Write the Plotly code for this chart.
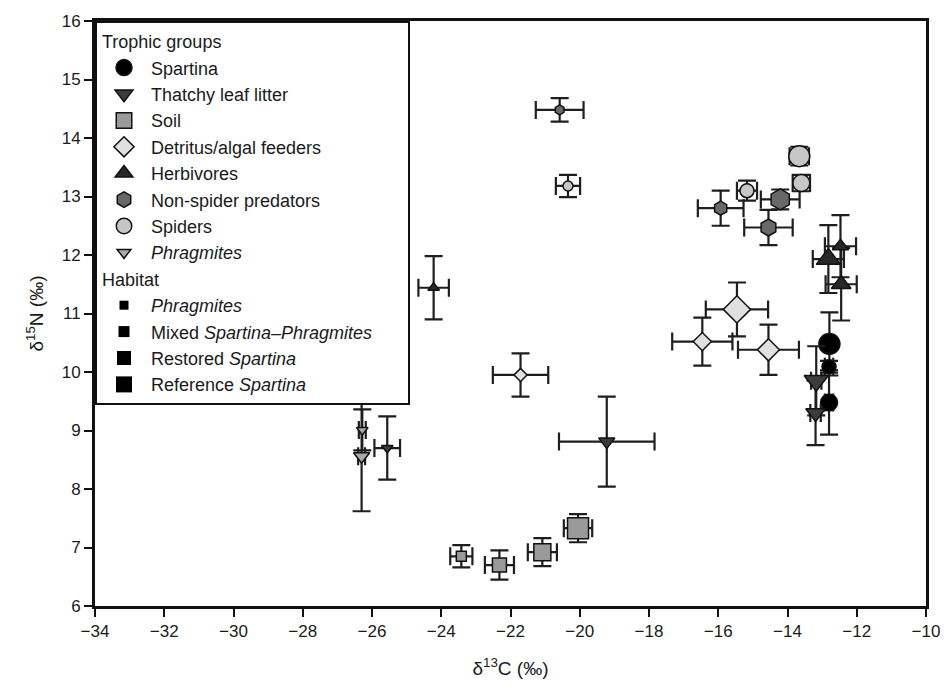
import plotly.graph_objects as go

# ---------------- data ----------------
habitat_names = ["Phragmites", "Mixed", "Restored", "Reference"]
habitat_labels = ["<i>Phragmites</i>", "Mixed <i>Spartina–Phragmites</i>\u00a0\u00a0\u00a0\u00a0\u00a0\u00a0",
                  "Restored <i>Spartina</i>", "Reference <i>Spartina</i>"]

group_names = ["Spartina", "Thatchy leaf litter", "Soil", "Detritus/algal feeders",
               "Herbivores", "Non-spider predators", "Spiders", "<i>Phragmites</i>"]

spartina_x = [-12.79, -12.80, -12.80]
spartina_y = [10.48, 10.09, 9.48]
spartina_xerr = [0.15, 0.12, 0.12]
spartina_yerr = [0.54, 0.10, 0.55]
spartina_hab = ["Reference", "Mixed", "Restored"]

thatch_x = [-25.56, -19.22, -13.17, -13.19]
thatch_y = [8.70, 8.81, 9.85, 9.30]
thatch_xerr = [0.37, 1.38, 0.15, 0.15]
thatch_yerr = [0.54, 0.77, 0.59, 0.55]
thatch_hab = ["Phragmites", "Mixed", "Reference", "Restored"]

soil_x = [-23.42, -22.32, -21.08, -20.05]
soil_y = [6.85, 6.70, 6.92, 7.33]
soil_xerr = [0.32, 0.42, 0.42, 0.41]
soil_yerr = [0.19, 0.25, 0.24, 0.24]
soil_hab = ["Phragmites", "Mixed", "Restored", "Reference"]

detritus_x = [-21.71, -16.46, -14.55, -15.46]
detritus_y = [9.95, 10.52, 10.38, 11.07]
detritus_xerr = [0.80, 0.87, 0.88, 0.90]
detritus_yerr = [0.37, 0.41, 0.43, 0.46]
detritus_hab = ["Phragmites", "Mixed", "Restored", "Reference"]

herb_x = [-24.22, -12.47, -12.45, -12.82]
herb_y = [11.44, 12.15, 11.50, 11.93]
herb_xerr = [0.44, 0.45, 0.45, 0.45]
herb_yerr = [0.54, 0.53, 0.62, 0.58]
herb_hab = ["Phragmites", "Mixed", "Restored", "Reference"]

pred_x = [-20.58, -15.93, -14.55, -14.21]
pred_y = [14.48, 12.80, 12.47, 12.95]
pred_xerr = [0.69, 0.66, 0.70, 0.56]
pred_yerr = [0.20, 0.30, 0.30, 0.17]
pred_hab = ["Phragmites", "Mixed", "Restored", "Reference"]

spider_x = [-20.34, -15.17, -13.60, -13.66]
spider_y = [13.18, 13.10, 13.23, 13.69]
spider_xerr = [0.35, 0.29, 0.25, 0.28]
spider_yerr = [0.19, 0.17, 0.14, 0.16]
spider_hab = ["Phragmites", "Mixed", "Restored", "Reference"]

phrag_x = [-26.28, -26.30]
phrag_y = [9.01, 8.56]
phrag_xerr = [0.10, 0.10]
phrag_yerr = [0.35, 0.94]
phrag_hab = ["Phragmites", "Mixed"]

x_ticks = list(range(-34, -9, 2))
y_ticks = list(range(6, 17, 1))

# ---------------- styles ----------------
hab_size = {"Phragmites": 10, "Mixed": 14, "Restored": 17, "Reference": 21}
hab_legend_size = [9, 11, 14, 16]
FONT = "Liberation Sans, Arial, Helvetica, sans-serif"
ERR = "#1e1e1e"

series = [
    (spartina_x, spartina_y, spartina_xerr, spartina_yerr, spartina_hab, "circle", "#000000"),
    (thatch_x, thatch_y, thatch_xerr, thatch_yerr, thatch_hab, "triangle-down", "#3c3c3c"),
    (soil_x, soil_y, soil_xerr, soil_yerr, soil_hab, "square", "#9a9a9a"),
    (detritus_x, detritus_y, detritus_xerr, detritus_yerr, detritus_hab, "diamond", "#e0e0e0"),
    (herb_x, herb_y, herb_xerr, herb_yerr, herb_hab, "triangle-up", "#282828"),
    (pred_x, pred_y, pred_xerr, pred_yerr, pred_hab, "hexagon", "#686868"),
    (spider_x, spider_y, spider_xerr, spider_yerr, spider_hab, "circle", "#c6c6c6"),
    (phrag_x, phrag_y, phrag_xerr, phrag_yerr, phrag_hab, "triangle-down", "#a9a9a9"),
]

fig = go.Figure()
for name, (xs, ys, xe, ye, hab, sym, col) in zip(group_names, series):
    fig.add_trace(go.Scatter(
        x=xs, y=ys, mode="markers", name=name,
        legendgroup="trophic", legendgrouptitle=dict(text="Trophic groups"),
        marker=dict(symbol=sym, color=col, size=[hab_size[h] for h in hab], opacity=1,
                    line=dict(color="#111111", width=1.5)),
        error_x=dict(type="data", array=xe, color=ERR, thickness=2.2, width=9),
        error_y=dict(type="data", array=ye, color=ERR, thickness=2.2, width=9),
    ))

for lab, sz in zip(habitat_labels, hab_legend_size):
    fig.add_trace(go.Scatter(
        x=[None], y=[None], mode="markers", name=lab,
        legendgroup="habitat", legendgrouptitle=dict(text="Habitat"),
        marker=dict(symbol="square", color="#000000", size=sz, opacity=1),
    ))

fig.update_layout(
    width=952, height=689,
    margin=dict(l=95, r=18, t=18, b=77),
    paper_bgcolor="white", plot_bgcolor="white",
    font=dict(family=FONT, color="#1a1a1a", size=17),
    legend=dict(x=0, y=1, xanchor="left", yanchor="top",
                bgcolor="white", bordercolor="#111111", borderwidth=2,
                font=dict(size=18, family=FONT, color="#1a1a1a"),
                grouptitlefont=dict(size=18, family=FONT, color="#1a1a1a"),
                tracegroupgap=0, itemsizing="trace", itemwidth=44,
                traceorder="grouped", itemclick=False),
    xaxis=dict(range=[-34, -10], tickvals=x_ticks, ticks="outside", ticklen=8,
               tickwidth=2, tickcolor="#111111", showline=True, linecolor="#111111",
               linewidth=3, mirror=True, showgrid=False, zeroline=False,
               tickfont=dict(size=17),
               title=dict(text="δ<sup>13</sup>C (‰)", font=dict(size=19), standoff=22)),
    yaxis=dict(range=[6, 16], tickvals=y_ticks, ticks="outside", ticklen=8,
               tickwidth=2, tickcolor="#111111", showline=True, linecolor="#111111",
               linewidth=3, mirror=True, showgrid=False, zeroline=False,
               tickfont=dict(size=17),
               title=dict(text="δ<sup>15</sup>N (‰)", font=dict(size=19), standoff=14)),
)

fig.write_html("out.html")
